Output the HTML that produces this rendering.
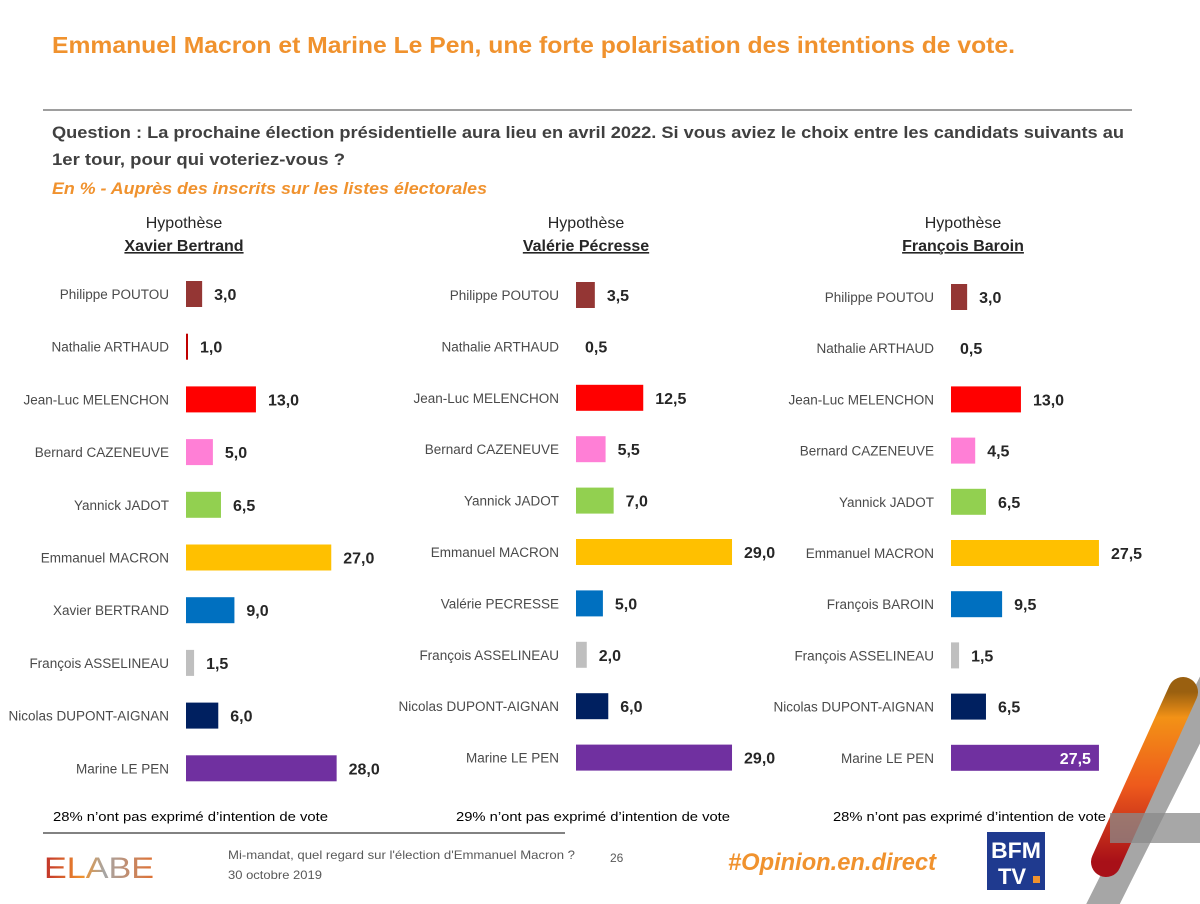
<!DOCTYPE html>
<html><head><meta charset="utf-8">
<style>
html,body{margin:0;padding:0;background:#fff;}
svg{display:block;font-family:"Liberation Sans",sans-serif;}
</style></head>
<body>
<svg id="page" width="1200" height="904" viewBox="0 0 1200 904" xmlns="http://www.w3.org/2000/svg">
  <rect width="1200" height="904" fill="#fff"/>
  <text x="52" y="53" font-size="23" font-weight="bold" fill="#f0922e" textLength="963" lengthAdjust="spacingAndGlyphs">Emmanuel Macron et Marine Le Pen, une forte polarisation des intentions de vote.</text>
  <line x1="43" y1="110" x2="1132" y2="110" stroke="#7f7f7f" stroke-width="1.5"/>
  <text x="52" y="138" font-size="17" font-weight="bold" fill="#404040" textLength="1072" lengthAdjust="spacingAndGlyphs">Question : La prochaine élection présidentielle aura lieu en avril 2022. Si vous aviez le choix entre les candidats suivants au</text>
  <text x="52" y="165" font-size="17" font-weight="bold" fill="#404040" textLength="293" lengthAdjust="spacingAndGlyphs">1er tour, pour qui voteriez-vous ?</text>
  <text x="52" y="194" font-size="17" font-weight="bold" font-style="italic" fill="#f0922e" textLength="435" lengthAdjust="spacingAndGlyphs">En  % - Auprès des inscrits sur les listes électorales</text>
  <g id="charts"></g>
  <line x1="43" y1="833" x2="565" y2="833" stroke="#595959" stroke-width="1.5"/>
  <g>
    <defs>
      <linearGradient id="eg" x1="0" y1="0" x2="1" y2="0">
        <stop offset="0" stop-color="#c0302a"/><stop offset="0.35" stop-color="#f0922e"/><stop offset="0.55" stop-color="#a6a6a6"/><stop offset="1" stop-color="#e07030"/>
      </linearGradient>
    </defs>
    <text x="44" y="878" font-size="30" fill="url(#eg)" textLength="110" lengthAdjust="spacingAndGlyphs">ELABE</text>
  </g>
  <text x="228" y="859" font-size="12" fill="#595959" textLength="347" lengthAdjust="spacingAndGlyphs">Mi-mandat, quel regard sur l'élection d'Emmanuel Macron ?</text>
  <text x="228" y="879" font-size="12" fill="#595959" textLength="94" lengthAdjust="spacingAndGlyphs">30 octobre 2019</text>
  <text x="610" y="862" font-size="12" fill="#595959">26</text>
  <text x="728" y="870" font-size="24" font-weight="bold" font-style="italic" fill="#f0922e" textLength="208" lengthAdjust="spacingAndGlyphs">#Opinion.en.direct</text>
  <g>
    <rect x="987" y="832" width="58" height="58" fill="#1f3a8f"/>
    <text x="1016" y="858" font-size="22" font-weight="bold" fill="#fff" text-anchor="middle" textLength="50" lengthAdjust="spacingAndGlyphs">BFM</text>
    <text x="1012" y="884" font-size="22" font-weight="bold" fill="#fff" text-anchor="middle">TV</text>
    <rect x="1033" y="876" width="7" height="7" fill="#f0922e"/>
  </g>
  <g>
    <defs>
      <linearGradient id="og" x1="0" y1="0" x2="0" y2="1">
        <stop offset="0" stop-color="#9a6010"/><stop offset="0.15" stop-color="#f39216"/><stop offset="0.55" stop-color="#ee5a1c"/><stop offset="1" stop-color="#a81018"/>
      </linearGradient>
    </defs>
    <line x1="1215" y1="680" x2="1095" y2="920" stroke="#a6a6a6" stroke-width="30"/>
    <line x1="1183" y1="692" x2="1106" y2="862" stroke="url(#og)" stroke-width="30" stroke-linecap="round"/>
    <rect x="1110" y="813" width="90" height="30" fill="#8a8a8a" opacity="0.75"/>
  </g>
</svg>
<script>
const candidates1 = ["Philippe POUTOU","Nathalie ARTHAUD","Jean-Luc MELENCHON","Bernard CAZENEUVE","Yannick JADOT","Emmanuel MACRON","Xavier BERTRAND","François ASSELINEAU","Nicolas DUPONT-AIGNAN","Marine LE PEN"];
const candidates2 = ["Philippe POUTOU","Nathalie ARTHAUD","Jean-Luc MELENCHON","Bernard CAZENEUVE","Yannick JADOT","Emmanuel MACRON","Valérie PECRESSE","François ASSELINEAU","Nicolas DUPONT-AIGNAN","Marine LE PEN"];
const candidates3 = ["Philippe POUTOU","Nathalie ARTHAUD","Jean-Luc MELENCHON","Bernard CAZENEUVE","Yannick JADOT","Emmanuel MACRON","François BAROIN","François ASSELINEAU","Nicolas DUPONT-AIGNAN","Marine LE PEN"];
const values1 = [3.0,1.0,13.0,5.0,6.5,27.0,9.0,1.5,6.0,28.0];
const values2 = [3.5,0.5,12.5,5.5,7.0,29.0,5.0,2.0,6.0,29.0];
const values3 = [3.0,0.5,13.0,4.5,6.5,27.5,9.5,1.5,6.5,27.5];
const hypothesisNames = ["Xavier Bertrand","Valérie Pécresse","François Baroin"];
const abstentionNotes = ["28% n’ont pas exprimé d’intention de vote","29% n’ont pas exprimé d’intention de vote","28% n’ont pas exprimé d’intention de vote"];
const barColors = ["#943634","#c00000","#ff0000","#ff7fd6","#92d050","#ffc000","#0070c0","#bfbfbf","#002060","#7030a0"];

const NS="http://www.w3.org/2000/svg";
const root=document.getElementById('charts');
function mk(tag,attrs,parent){const e=document.createElementNS(NS,tag);for(const k in attrs)e.setAttribute(k,attrs[k]);parent.appendChild(e);return e;}
const panels=[
  {names:candidates1,vals:values1,x0:186,center:184,top:294,step:52.7,note:53,noteW:275},
  {names:candidates2,vals:values2,x0:576,center:586,top:295,step:51.4,note:456,noteW:274},
  {names:candidates3,vals:values3,x0:951,center:963,top:297,step:51.2,note:833,noteW:273}
];
const scale=5.38;
function xw(v){return v*scale;}
panels.forEach((p,pi)=>{
  const g=mk('g',{},root);
  
  
  const h=mk('text',{x:p.center,y:228,'font-size':16,fill:'#262626','text-anchor':'middle'},g);
  
  
  h.textContent='Hypothèse';
  const hn=mk('text',{x:p.center,y:251,'font-size':16,'font-weight':'bold',fill:'#262626','text-anchor':'middle','text-decoration':'underline'},g);
  
  
  hn.textContent=hypothesisNames[pi];
  p.names.forEach((n,i)=>{
    const cy=p.top+i*p.step;
    const v=p.vals[i];
    const lab=mk('text',{x:p.x0-17,y:cy+5,'font-size':13.5,fill:'#4a4a4a','text-anchor':'end'},g);
    
    
    lab.textContent=n;
    const w=xw(v);
    if(v>=1){
      const bw = v<=1 ? 2 : w;
      const r=mk('rect',{x:p.x0,y:cy-13,width:bw,height:26,fill:barColors[i]},g);
      
      
    }
    const inside = (pi===2 && i===9);
    let tx;
    if(inside) tx=p.x0+w-8;
    else if(v<1) tx=p.x0+9;
    else if(v<=1) tx=p.x0+14;
    else tx=p.x0+w+12;
    const t=mk('text',{x:tx,y:cy+6,'font-size':16,'font-weight':'bold',fill:inside?'#fff':'#262626','text-anchor':inside?'end':'start'},g);
    
    
    t.textContent=v.toFixed(1).replace('.',',');
  });
  const nt=mk('text',{x:p.note,y:821,'font-size':13,fill:'#000',textLength:p.noteW,lengthAdjust:'spacingAndGlyphs'},g);
  
  
  nt.textContent=abstentionNotes[pi];
});
</script>
</body></html>
